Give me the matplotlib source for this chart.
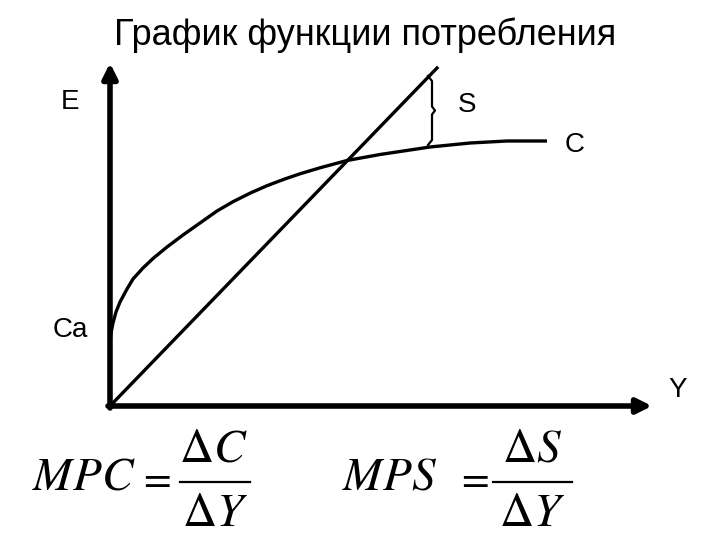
import matplotlib.pyplot as plt
import numpy as np

# consumption curve C (income Y, expenditure E), origin at the axes corner
c_y = [0, 1, 3, 6, 10, 17, 23, 33, 43, 57, 73, 90, 107, 123, 140, 157, 175,
       190, 210, 237, 270, 300, 320, 360, 397, 437]
c_e = [63, 73, 83, 94, 104, 117, 127, 138, 147.5, 159, 171, 183, 195, 204.3, 212.8, 220.3, 227.1,
       232.2, 238.2, 245.5, 251.5, 256, 259, 263, 265, 265]

# 45 degree line E = Y
line_y = [0, 327]
line_e = [0, 338]

# saving gap S (brace between the 45 line and C)
s_x = 322
s_top = 328
s_bot = 263

fig = plt.figure(figsize=(7.2, 5.4), dpi=100)
ax = fig.add_axes([0, 0, 1, 1])
ax.set_xlim(-110, 610)
ax.set_ylim(-134, 406)
ax.axis('off')

blk = 'black'
# axes with arrows
ax.annotate('', xy=(0, 343), xytext=(0, -2),
            arrowprops=dict(arrowstyle='-|>', lw=4, color=blk, mutation_scale=22, shrinkA=0, shrinkB=0))
ax.annotate('', xy=(542, 0), xytext=(-2, 0),
            arrowprops=dict(arrowstyle='-|>', lw=4, color=blk, mutation_scale=22, shrinkA=0, shrinkB=0))

ax.plot(c_y, c_e, color=blk, lw=2.4, solid_capstyle='butt', solid_joinstyle='round')
ax.plot(line_y, line_e, color=blk, lw=2.4)

# brace
mid = (s_top + s_bot) / 2
bx = [s_x - 4, s_x, s_x, s_x + 3, s_x, s_x, s_x - 4]
by = [s_top + 2, s_top - 3, mid + 4, mid, mid - 4, s_bot + 3, s_bot - 2]
ax.plot(bx, by, color=blk, lw=1.6)

lab = dict(fontsize=20, family='Liberation Sans', color=blk, ha='center', va='center')
ax.text(-40, 304, 'E', **lab)
ax.text(357, 301, 'S', **lab)
ax.text(465, 261, 'C', **lab)
ax.text(-40, 76, 'Ca', **lab)
ax.text(568, 16, 'Y', **lab)

ax.text(255, 371, 'График функции потребления', fontsize=26, family='Liberation Sans',
        color=blk, ha='center', va='center')

plt.rcParams['mathtext.fontset'] = 'stix'
fm = dict(fontsize=34, color=blk, va='center')
fe = dict(fontsize=29, color=blk, va='center', ha='center')
# MPC = dC / dY
ax.text(-78, -71, r'$MPC$', ha='left', **fm)
ax.text(45, -73, r'$=$', **fe)
ax.text(103, -43, r'$\Delta C$', ha='center', **fm)
ax.text(105, -108, r'$\Delta Y$', ha='center', **fm)
ax.plot([70, 140], [-76, -76], color=blk, lw=1.6)
# MPS = dS / dY
ax.text(232, -71, r'$MPS$', ha='left', **fm)
ax.text(363, -73, r'$=$', **fe)
ax.text(422, -43, r'$\Delta S$', ha='center', **fm)
ax.text(422, -108, r'$\Delta Y$', ha='center', **fm)
ax.plot([383, 462], [-76, -76], color=blk, lw=1.6)

fig.savefig('out.png', dpi=100)
